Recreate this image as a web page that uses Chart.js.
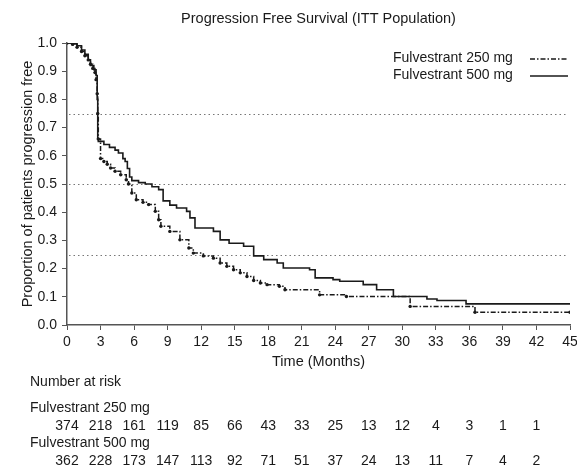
<!DOCTYPE html>
<html>
<head>
<meta charset="utf-8">
<script src="https://cdn.jsdelivr.net/npm/chart.js@4.4.0/dist/chart.umd.min.js"></script>
<style>
  html, body { margin: 0; padding: 0; background: #fff; }
  #wrap { width: 577px; height: 468px; }
</style>
</head>
<body>
<div id="wrap"><canvas id="pfsChart" width="577" height="468"></canvas></div>
<script>
const chartTitle = 'Progression Free Survival (ITT Population)';
const seriesNames = ['Fulvestrant 250 mg', 'Fulvestrant 500 mg'];

// Kaplan-Meier steps: time of drop (months), survival after it
const months250 = [0, 0.5, 0.9, 1.3, 1.6, 1.9, 2.1, 2.3, 2.5, 2.6, 2.7, 2.75, 2.8, 3.0, 3.3, 3.6, 3.9, 4.3, 4.8, 5.3, 5.5, 5.8, 6.2, 6.8, 7.3, 7.9, 8.2, 8.4, 9.2, 10.1, 10.9, 11.3, 12.2, 13.1, 13.7, 14.3, 14.9, 15.5, 16.1, 16.7, 17.3, 17.9, 19.0, 19.5, 22.6, 25.0, 30.7, 36.5, 45];
const surv250 = [1.0, 0.995, 0.985, 0.97, 0.955, 0.94, 0.925, 0.91, 0.895, 0.87, 0.82, 0.75, 0.66, 0.59, 0.58, 0.57, 0.557, 0.545, 0.533, 0.515, 0.50, 0.468, 0.444, 0.435, 0.427, 0.403, 0.373, 0.35, 0.332, 0.302, 0.273, 0.255, 0.245, 0.237, 0.22, 0.208, 0.196, 0.185, 0.172, 0.158, 0.149, 0.143, 0.137, 0.125, 0.107, 0.101, 0.066, 0.045, 0.045];

const months500 = [0, 0.5, 0.9, 1.3, 1.6, 1.9, 2.1, 2.4, 2.6, 2.7, 2.75, 2.8, 3.3, 3.8, 4.3, 4.6, 5.0, 5.2, 5.4, 5.6, 5.8, 6.4, 7.0, 7.6, 8.2, 8.6, 9.2, 9.8, 10.7, 11.0, 11.45, 13.1, 13.7, 14.5, 15.8, 16.7, 17.6, 18.8, 19.35, 21.7, 22.2, 23.8, 24.4, 26.5, 27.7, 29.2, 32.2, 33.1, 35.7, 45];
const surv500 = [1.0, 0.997, 0.99, 0.975, 0.96, 0.94, 0.92, 0.905, 0.885, 0.8, 0.66, 0.651, 0.64, 0.63, 0.62, 0.61, 0.59, 0.58, 0.555, 0.525, 0.512, 0.505, 0.50, 0.49, 0.48, 0.44, 0.425, 0.415, 0.403, 0.38, 0.344, 0.332, 0.302, 0.29, 0.279, 0.245, 0.232, 0.22, 0.202, 0.196, 0.167, 0.161, 0.155, 0.143, 0.125, 0.101, 0.092, 0.087, 0.075, 0.075];

const refLevels = [0.25, 0.5, 0.75];

const riskTitle = 'Number at risk';
const riskTimes = [0, 3, 6, 9, 12, 15, 18, 21, 24, 27, 30, 33, 36, 39, 42];
const risk250 = [374, 218, 161, 119, 85, 66, 43, 33, 25, 13, 12, 4, 3, 1, 1];
const risk500 = [362, 228, 173, 147, 113, 92, 71, 51, 37, 24, 13, 11, 7, 4, 2];

const FONT = "'Liberation Sans', Arial, Helvetica, sans-serif";
const INK = '#1a1a1a';
const AXIS = '#555';

function toPoints(xs, ys) {
  return xs.map((x, i) => ({ x: x, y: ys[i] }));
}

// title centred over the plot area, dotted reference lines at 0.25 / 0.5 / 0.75
const refLinesPlugin = {
  id: 'refLines',
  beforeDatasetsDraw(chart) {
    const { ctx, chartArea, scales: { x, y } } = chart;
    ctx.save();
    ctx.font = '14.5px ' + FONT;
    ctx.fillStyle = INK;
    ctx.textAlign = 'center';
    ctx.textBaseline = 'middle';
    ctx.fillText(chartTitle, (chartArea.left + chartArea.right) / 2, 19);

    ctx.strokeStyle = '#777';
    ctx.lineWidth = 1;
    ctx.setLineDash([1.5, 3]);
    refLevels.forEach(v => {
      const py = Math.round(y.getPixelForValue(v)) + 0.5;
      ctx.beginPath();
      ctx.moveTo(x.left + 2, py);
      ctx.lineTo(chart.width - 9, py);
      ctx.stroke();
    });
    ctx.restore();
  }
};

// legend with text first and line sample on the right
const sideLegendPlugin = {
  id: 'sideLegend',
  afterDraw(chart) {
    const { ctx, chartArea } = chart;
    ctx.save();
    ctx.font = '14px ' + FONT;
    ctx.fillStyle = INK;
    ctx.textBaseline = 'middle';
    chart.data.datasets.forEach((ds, i) => {
      const yy = 58 + i * 17;
      ctx.textAlign = 'left';
      ctx.fillText(ds.label, chartArea.right - 177, yy);
      ctx.strokeStyle = INK;
      ctx.lineWidth = 1.3;
      ctx.setLineDash(ds.borderDash || []);
      ctx.beginPath();
      ctx.moveTo(chartArea.right - 40, yy + 1);
      ctx.lineTo(chartArea.right - 2, yy + 1);
      ctx.stroke();
    });
    ctx.restore();
  }
};

// number-at-risk table under the x axis
const riskTablePlugin = {
  id: 'riskTable',
  afterDraw(chart) {
    const { ctx, scales: { x } } = chart;
    ctx.save();
    ctx.font = '14px ' + FONT;
    ctx.fillStyle = INK;
    ctx.textBaseline = 'middle';
    ctx.textAlign = 'left';
    ctx.fillText(riskTitle, 30, 382);
    ctx.fillText(seriesNames[0], 30, 408);
    ctx.fillText(seriesNames[1], 30, 443);
    ctx.textAlign = 'center';
    riskTimes.forEach((t, i) => {
      const px = x.getPixelForValue(t);
      ctx.fillText(String(risk250[i]), px, 426);
      ctx.fillText(String(risk500[i]), px, 461);
    });
    ctx.restore();
  }
};

const ctx = document.getElementById('pfsChart').getContext('2d');

const pfsChart = new Chart(ctx, {
  type: 'line',
  data: {
    datasets: [
      {
        label: seriesNames[0],
        data: toPoints(months250, surv250),
        stepped: true,
        borderColor: INK,
        borderWidth: 1.5,
        borderDash: [5, 2, 1.5, 2],
        pointRadius: 1.7,
        pointBackgroundColor: INK,
        pointBorderWidth: 0,
        fill: false
      },
      {
        label: seriesNames[1],
        data: toPoints(months500, surv500),
        stepped: true,
        borderColor: INK,
        borderWidth: 1.6,
        pointRadius: 0,
        fill: false
      }
    ]
  },
  options: {
    responsive: false,
    animation: false,
    layout: { padding: { left: 0, right: 7, top: 43, bottom: 0 } },
    plugins: {
      legend: { display: false },
      tooltip: { enabled: false },
      title: { display: false }
    },
    scales: {
      x: {
        type: 'linear',
        min: 0,
        max: 45,
        afterFit: s => { s.height = 143; s.paddingRight = 0; },
        ticks: { stepSize: 3, color: INK, padding: 4, maxRotation: 0, font: { family: FONT, size: 14 } },
        grid: { drawOnChartArea: false, drawTicks: true, tickLength: 5, tickColor: AXIS },
        border: { display: true, color: AXIS, width: 1.5 },
        title: {
          display: true,
          text: 'Time (Months)',
          color: INK,
          font: { family: FONT, size: 14.5 },
          padding: { top: 0, bottom: 97 }
        }
      },
      y: {
        min: 0,
        max: 1,
        afterFit: s => { s.width = 67; s.paddingTop = 0; },
        ticks: {
          stepSize: 0.1,
          color: INK,
          padding: 5,
          font: { family: FONT, size: 14 },
          callback: v => Number(v).toFixed(1)
        },
        grid: { drawOnChartArea: false, drawTicks: true, tickLength: 5, tickColor: AXIS },
        border: { display: true, color: AXIS, width: 1.5 },
        title: {
          display: true,
          text: 'Proportion of patients progression free',
          color: INK,
          font: { family: FONT, size: 14.5 },
          padding: { top: 19, bottom: 0 }
        }
      }
    }
  },
  plugins: [refLinesPlugin, sideLegendPlugin, riskTablePlugin]
});
</script>
</body>
</html>
